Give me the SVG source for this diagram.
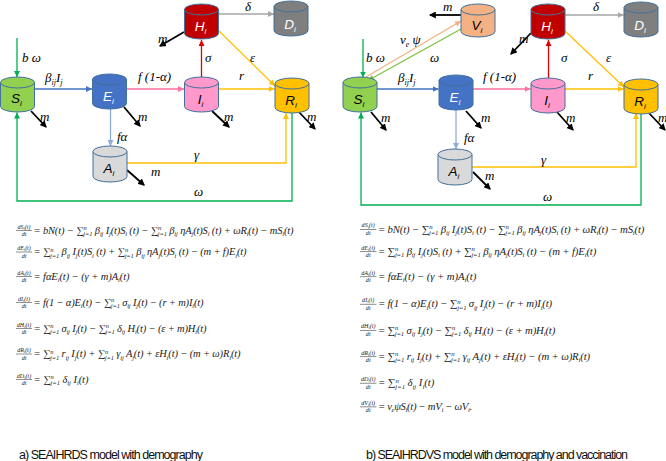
<svg xmlns="http://www.w3.org/2000/svg" width="666" height="461" viewBox="0 0 666 461">
<defs>
<style>
.cyl{stroke:#41719C;stroke-width:1}
.nl{font-family:"Liberation Sans",Arial,sans-serif;font-style:italic;font-size:13.5px;text-anchor:middle}
.ns{font-size:8px}
.wt{fill:#fff}
.bk{fill:#000}
.c{fill:none;stroke-width:1.3}
.mk{fill:none;stroke:#000;stroke-width:1.8}
.cl{font-family:"Liberation Serif","DejaVu Serif",serif;font-style:italic;font-size:13px;fill:#000}
.cs{font-size:8px}
.eq{font-family:"Liberation Serif","DejaVu Serif",serif;font-style:italic;font-size:10.5px;fill:#222}
.s{font-size:6.5px}
.fr{font-family:"Liberation Serif","DejaVu Serif",serif;font-style:italic;font-size:6px;text-anchor:middle;fill:#222}
.fs{font-size:4.5px}
.bar{stroke:#222;stroke-width:0.5}
.cap{font-family:"Liberation Sans",Arial,sans-serif;font-size:12.5px;fill:#111}
</style>
<marker id="aG" viewBox="0 0 6 6" refX="6" refY="3" markerWidth="6" markerHeight="6" markerUnits="userSpaceOnUse" orient="auto"><path d="M0,0L6,3L0,6z" fill="#00B050"/></marker>
<marker id="aLG" viewBox="0 0 6 6" refX="6" refY="3" markerWidth="6" markerHeight="6" markerUnits="userSpaceOnUse" orient="auto"><path d="M0,0L6,3L0,6z" fill="#7DC242"/></marker>
<marker id="aB" viewBox="0 0 6 6" refX="6" refY="3" markerWidth="6" markerHeight="6" markerUnits="userSpaceOnUse" orient="auto"><path d="M0,0L6,3L0,6z" fill="#4472C4"/></marker>
<marker id="aP" viewBox="0 0 6 6" refX="6" refY="3" markerWidth="6" markerHeight="6" markerUnits="userSpaceOnUse" orient="auto"><path d="M0,0L6,3L0,6z" fill="#FF6F9F"/></marker>
<marker id="aY" viewBox="0 0 6 6" refX="6" refY="3" markerWidth="6" markerHeight="6" markerUnits="userSpaceOnUse" orient="auto"><path d="M0,0L6,3L0,6z" fill="#FFC000"/></marker>
<marker id="aR" viewBox="0 0 6 6" refX="6" refY="3" markerWidth="6" markerHeight="6" markerUnits="userSpaceOnUse" orient="auto"><path d="M0,0L6,3L0,6z" fill="#E00000"/></marker>
<marker id="aGr" viewBox="0 0 6 6" refX="6" refY="3" markerWidth="6" markerHeight="6" markerUnits="userSpaceOnUse" orient="auto"><path d="M0,0L6,3L0,6z" fill="#A6A6A6"/></marker>
<marker id="aLB" viewBox="0 0 6 6" refX="6" refY="3" markerWidth="6" markerHeight="6" markerUnits="userSpaceOnUse" orient="auto"><path d="M0,0L6,3L0,6z" fill="#8FAADC"/></marker>
<marker id="aO" viewBox="0 0 6 6" refX="6" refY="3" markerWidth="6" markerHeight="6" markerUnits="userSpaceOnUse" orient="auto"><path d="M0,0L6,3L0,6z" fill="#F4B183"/></marker>
<marker id="aK" viewBox="0 0 6 6" refX="5" refY="3" markerWidth="7" markerHeight="7" markerUnits="userSpaceOnUse" orient="auto"><path d="M0,0L6,3L0,6z" fill="#000"/></marker>
</defs>
<rect width="666" height="461" fill="#fff"/>

<!-- connectors -->
<g id="connectors">
<!-- left panel -->
<line class="c" stroke="#00B050" x1="17" y1="38" x2="17" y2="77" marker-end="url(#aG)"/>
<line class="c" stroke="#4472C4" x1="34.5" y1="89" x2="92" y2="89" marker-end="url(#aB)"/>
<line class="c" stroke="#FF6F9F" x1="126.5" y1="89" x2="184" y2="89" marker-end="url(#aP)"/>
<line class="c" stroke="#FFC000" x1="218.5" y1="89" x2="274.5" y2="89" marker-end="url(#aY)"/>
<line class="c" stroke="#E00000" x1="201.5" y1="77" x2="201.5" y2="40" marker-end="url(#aR)"/>
<line class="c" stroke="#FFC000" x1="218" y1="30" x2="275" y2="86" marker-end="url(#aY)"/>
<line class="c" stroke="#A6A6A6" x1="218.5" y1="14" x2="274" y2="14" marker-end="url(#aGr)"/>
<line class="c" stroke="#8FAADC" x1="110.5" y1="109" x2="110.5" y2="146" marker-end="url(#aLB)"/>
<polyline class="c" stroke="#FFC000" points="127,163 286,163 286,113" marker-end="url(#aY)"/>
<polyline class="c" stroke="#00B050" stroke-width="1.6" points="292,113 292,201 17,201 17,112.5" marker-end="url(#aG)"/>
<line class="mk" x1="184" y1="32" x2="160" y2="46" marker-end="url(#aK)"/>
<line class="mk" x1="31" y1="111" x2="46" y2="127" marker-end="url(#aK)"/>
<line class="mk" x1="124" y1="107" x2="140" y2="126" marker-end="url(#aK)"/>
<line class="mk" x1="212" y1="111" x2="229" y2="127" marker-end="url(#aK)"/>
<line class="mk" x1="298" y1="111" x2="315" y2="129" marker-end="url(#aK)"/>
<line class="mk" x1="127" y1="170" x2="144" y2="185" marker-end="url(#aK)"/>
<!-- right panel -->
<line class="c" stroke="#00B050" x1="363" y1="39" x2="363" y2="77.5" marker-end="url(#aG)"/>
<line class="c" stroke="#F4B183" stroke-width="1.6" x1="366" y1="77" x2="461" y2="21" marker-end="url(#aO)"/>
<line class="c" stroke="#7DC242" stroke-width="1.6" x1="461" y1="29" x2="368" y2="80.5" marker-end="url(#aLG)"/>
<line class="c" stroke="#4472C4" x1="377" y1="89" x2="438.5" y2="89" marker-end="url(#aB)"/>
<line class="c" stroke="#FF6F9F" x1="473" y1="89" x2="530.5" y2="89" marker-end="url(#aP)"/>
<line class="c" stroke="#FFC000" x1="565" y1="89" x2="623.5" y2="89" marker-end="url(#aY)"/>
<line class="c" stroke="#E00000" x1="548.5" y1="78" x2="548.5" y2="40" marker-end="url(#aR)"/>
<line class="c" stroke="#FFC000" x1="565" y1="31" x2="624" y2="87" marker-end="url(#aY)"/>
<line class="c" stroke="#A6A6A6" x1="565" y1="15" x2="623.5" y2="15" marker-end="url(#aGr)"/>
<line class="c" stroke="#8FAADC" x1="456" y1="110" x2="456" y2="149" marker-end="url(#aLB)"/>
<polyline class="c" stroke="#FFC000" points="472,167 636,167 636,113" marker-end="url(#aY)"/>
<polyline class="c" stroke="#00B050" stroke-width="1.6" points="641,113 641,205 361,205 361,112.5" marker-end="url(#aG)"/>
<line class="mk" x1="461" y1="15" x2="430" y2="15" marker-end="url(#aK)"/>
<line class="mk" x1="531" y1="33" x2="511" y2="54" marker-end="url(#aK)"/>
<line class="mk" x1="371" y1="112" x2="386" y2="130" marker-end="url(#aK)"/>
<line class="mk" x1="466" y1="111" x2="481" y2="128" marker-end="url(#aK)"/>
<line class="mk" x1="557" y1="112" x2="573" y2="130" marker-end="url(#aK)"/>
<line class="mk" x1="648" y1="112" x2="665" y2="130" marker-end="url(#aK)"/>
<line class="mk" x1="473" y1="172" x2="490" y2="189" marker-end="url(#aK)"/>
</g>

<g id="connector-labels">
<text class="cl" x="22" y="62">b ω</text>
<text class="cl" x="45" y="82">β<tspan class="cs" dy="3">ij</tspan><tspan dy="-3">I</tspan><tspan class="cs" dy="3">j</tspan></text>
<text class="cl" x="138" y="81">f (1-α)</text>
<text class="cl" x="239" y="80">r</text>
<text class="cl" x="205" y="62">σ</text>
<text class="cl" x="250" y="62">ε</text>
<text class="cl" x="245" y="11">δ</text>
<text class="cl" x="117" y="141">fα</text>
<text class="cl" x="194" y="159">γ</text>
<text class="cl" x="194" y="196">ω</text>
<text class="cl" x="158" y="43">m</text>
<text class="cl" x="40" y="121">m</text>
<text class="cl" x="138" y="121">m</text>
<text class="cl" x="224" y="121">m</text>
<text class="cl" x="307" y="121">m</text>
<text class="cl" x="151" y="176">m</text>

<text class="cl" x="366" y="62">b ω</text>
<text class="cl" x="400" y="44">v<tspan class="cs" dy="3">e</tspan><tspan dy="-3"> ψ</tspan></text>
<text class="cl" x="430" y="62">ω</text>
<text class="cl" x="398" y="82">β<tspan class="cs" dy="3">ij</tspan><tspan dy="-3">I</tspan><tspan class="cs" dy="3">j</tspan></text>
<text class="cl" x="483" y="81">f (1-α)</text>
<text class="cl" x="588" y="80">r</text>
<text class="cl" x="561" y="62">σ</text>
<text class="cl" x="606" y="62">ε</text>
<text class="cl" x="593" y="11">δ</text>
<text class="cl" x="443" y="11">m</text>
<text class="cl" x="464" y="142">fα</text>
<text class="cl" x="541" y="164">γ</text>
<text class="cl" x="543" y="201">ω</text>
<text class="cl" x="519" y="43">m</text>
<text class="cl" x="381" y="122">m</text>
<text class="cl" x="481" y="122">m</text>
<text class="cl" x="566" y="122">m</text>
<text class="cl" x="658" y="122">m</text>
<text class="cl" x="485" y="180">m</text>
</g>

<!-- left nodes -->
<g id="S-left"><path class="cyl" fill="#92D050" d="M0.5,82.5V106.5A17,5.5 0 0 0 34.5,106.5V82.5Z"/><ellipse class="cyl" fill="#92D050" cx="17.5" cy="82.5" rx="17" ry="5.5"/><text class="nl bk" x="16.5" y="103">S<tspan class="ns" dy="3">i</tspan></text></g>
<g id="E-left"><path class="cyl" fill="#4472C4" d="M92.5,79.5V103.5A17,5.5 0 0 0 126.5,103.5V79.5Z"/><ellipse class="cyl" fill="#4472C4" cx="109.5" cy="79.5" rx="17" ry="5.5"/><text class="nl wt" x="108.5" y="101">E<tspan class="ns" dy="3">i</tspan></text></g>
<g id="I-left"><path class="cyl" fill="#FF99CC" d="M184.5,82.5V106.5A17,5.5 0 0 0 218.5,106.5V82.5Z"/><ellipse class="cyl" fill="#FF99CC" cx="201.5" cy="82.5" rx="17" ry="5.5"/><text class="nl bk" x="200.5" y="104">I<tspan class="ns" dy="3">i</tspan></text></g>
<g id="R-left"><path class="cyl" fill="#FFC000" d="M275,83.5V107.5A17,5.5 0 0 0 309,107.5V83.5Z"/><ellipse class="cyl" fill="#FFC000" cx="292" cy="83.5" rx="17" ry="5.5"/><text class="nl bk" x="291" y="105">R<tspan class="ns" dy="3">i</tspan></text></g>
<g id="H-left"><path class="cyl" fill="#C00000" d="M184.5,9.5V33.5A17,5.5 0 0 0 218.5,33.5V9.5Z"/><ellipse class="cyl" fill="#C00000" cx="201.5" cy="9.5" rx="17" ry="5.5"/><text class="nl wt" x="200.5" y="31">H<tspan class="ns" dy="3">i</tspan></text></g>
<g id="D-left"><path class="cyl" fill="#7F7F7F" d="M274,6.5V30.5A17,5.5 0 0 0 308,30.5V6.5Z"/><ellipse class="cyl" fill="#7F7F7F" cx="291" cy="6.5" rx="17" ry="5.5"/><text class="nl wt" x="290" y="29">D<tspan class="ns" dy="3">i</tspan></text></g>
<g id="A-left"><path class="cyl" fill="#D9D9D9" d="M93,151.5V176.5A17,5.5 0 0 0 127,176.5V151.5Z"/><ellipse class="cyl" fill="#D9D9D9" cx="110" cy="151.5" rx="17" ry="5.5"/><text class="nl bk" x="109" y="173">A<tspan class="ns" dy="3">i</tspan></text></g>

<!-- right nodes -->
<g id="S-right"><path class="cyl" fill="#92D050" d="M343,82.5V106.5A17,5.5 0 0 0 377,106.5V82.5Z"/><ellipse class="cyl" fill="#92D050" cx="360" cy="82.5" rx="17" ry="5.5"/><text class="nl bk" x="359" y="104">S<tspan class="ns" dy="3">i</tspan></text></g>
<g id="E-right"><path class="cyl" fill="#4472C4" d="M439,80.5V104.5A17,5.5 0 0 0 473,104.5V80.5Z"/><ellipse class="cyl" fill="#4472C4" cx="456" cy="80.5" rx="17" ry="5.5"/><text class="nl wt" x="455" y="102">E<tspan class="ns" dy="3">i</tspan></text></g>
<g id="I-right"><path class="cyl" fill="#FF99CC" d="M531,83.5V107.5A17,5.5 0 0 0 565,107.5V83.5Z"/><ellipse class="cyl" fill="#FF99CC" cx="548" cy="83.5" rx="17" ry="5.5"/><text class="nl bk" x="547" y="105">I<tspan class="ns" dy="3">i</tspan></text></g>
<g id="R-right"><path class="cyl" fill="#FFC000" d="M624,84.5V108.5A17,5.5 0 0 0 658,108.5V84.5Z"/><ellipse class="cyl" fill="#FFC000" cx="641" cy="84.5" rx="17" ry="5.5"/><text class="nl bk" x="640" y="106">R<tspan class="ns" dy="3">i</tspan></text></g>
<g id="H-right"><path class="cyl" fill="#C00000" d="M531,9.5V33.5A17,5.5 0 0 0 565,33.5V9.5Z"/><ellipse class="cyl" fill="#C00000" cx="548" cy="9.5" rx="17" ry="5.5"/><text class="nl wt" x="547" y="31">H<tspan class="ns" dy="3">i</tspan></text></g>
<g id="D-right"><path class="cyl" fill="#7F7F7F" d="M624,7.5V31.5A17,5.5 0 0 0 658,31.5V7.5Z"/><ellipse class="cyl" fill="#7F7F7F" cx="641" cy="7.5" rx="17" ry="5.5"/><text class="nl wt" x="640" y="30">D<tspan class="ns" dy="3">i</tspan></text></g>
<g id="V-right"><path class="cyl" fill="#F4B183" d="M461,9.5V31.5A17,5.5 0 0 0 495,31.5V9.5Z"/><ellipse class="cyl" fill="#F4B183" cx="478" cy="9.5" rx="17" ry="5.5"/><text class="nl bk" x="477" y="30">V<tspan class="ns" dy="3">i</tspan></text></g>
<g id="A-right"><path class="cyl" fill="#D9D9D9" d="M438,154.5V179.5A17,5.5 0 0 0 472,179.5V154.5Z"/><ellipse class="cyl" fill="#D9D9D9" cx="455" cy="154.5" rx="17" ry="5.5"/><text class="nl bk" x="454" y="176">A<tspan class="ns" dy="3">i</tspan></text></g>

<!-- equations left -->
<g id="equations-left" transform="translate(16,230)">
<g><text class="fr" x="8" y="-1.5">dS<tspan class="fs" dy="1">i</tspan><tspan dy="-1">(t)</tspan></text><line class="bar" x1="0" y1="0.5" x2="16" y2="0.5"/><text class="fr" x="8" y="6">dt</text>
<text class="eq" x="17.5" y="3.5" textLength="260" lengthAdjust="spacing">= bN(t) − ∑<tspan class="s" dy="-3.5">n</tspan><tspan class="s" dx="-3.3" dy="6">j=1</tspan><tspan dy="-2.5"> β</tspan><tspan class="s" dy="2.5">ij</tspan><tspan dy="-2.5"> I</tspan><tspan class="s" dy="2.5">j</tspan><tspan dy="-2.5">(t)S</tspan><tspan class="s" dy="2.5">i</tspan><tspan dy="-2.5"> (t) − ∑</tspan><tspan class="s" dy="-3.5">n</tspan><tspan class="s" dx="-3.3" dy="6">j=1</tspan><tspan dy="-2.5"> β</tspan><tspan class="s" dy="2.5">ij</tspan><tspan dy="-2.5"> ηA</tspan><tspan class="s" dy="2.5">j</tspan><tspan dy="-2.5">(t)S</tspan><tspan class="s" dy="2.5">i</tspan><tspan dy="-2.5"> (t) + ωR</tspan><tspan class="s" dy="2.5">i</tspan><tspan dy="-2.5">(t) − mS</tspan><tspan class="s" dy="2.5">i</tspan><tspan dy="-2.5">(t)</tspan></text></g>
<g transform="translate(0,21.5)"><text class="fr" x="8" y="-1.5">dE<tspan class="fs" dy="1">i</tspan><tspan dy="-1">(t)</tspan></text><line class="bar" x1="0" y1="0.5" x2="16" y2="0.5"/><text class="fr" x="8" y="6">dt</text>
<text class="eq" x="17.5" y="3.5" textLength="213" lengthAdjust="spacing">= ∑<tspan class="s" dy="-3.5">n</tspan><tspan class="s" dx="-3.3" dy="6">j=1</tspan><tspan dy="-2.5"> β</tspan><tspan class="s" dy="2.5">ij</tspan><tspan dy="-2.5"> I</tspan><tspan class="s" dy="2.5">j</tspan><tspan dy="-2.5">(t)S</tspan><tspan class="s" dy="2.5">i</tspan><tspan dy="-2.5"> (t) + ∑</tspan><tspan class="s" dy="-3.5">n</tspan><tspan class="s" dx="-3.3" dy="6">j=1</tspan><tspan dy="-2.5"> β</tspan><tspan class="s" dy="2.5">ij</tspan><tspan dy="-2.5"> ηA</tspan><tspan class="s" dy="2.5">j</tspan><tspan dy="-2.5">(t)S</tspan><tspan class="s" dy="2.5">i</tspan><tspan dy="-2.5"> (t) − (m + f)E</tspan><tspan class="s" dy="2.5">i</tspan><tspan dy="-2.5">(t)</tspan></text></g>
<g transform="translate(0,46)"><text class="fr" x="8" y="-1.5">dA<tspan class="fs" dy="1">i</tspan><tspan dy="-1">(t)</tspan></text><line class="bar" x1="0" y1="0.5" x2="16" y2="0.5"/><text class="fr" x="8" y="6">dt</text>
<text class="eq" x="17.5" y="3.5" textLength="96" lengthAdjust="spacing">= fαE<tspan class="s" dy="2.5">i</tspan><tspan dy="-2.5">(t) − (γ + m)A</tspan><tspan class="s" dy="2.5">i</tspan><tspan dy="-2.5">(t)</tspan></text></g>
<g transform="translate(0,72)"><text class="fr" x="8" y="-1.5">dI<tspan class="fs" dy="1">i</tspan><tspan dy="-1">(t)</tspan></text><line class="bar" x1="0" y1="0.5" x2="16" y2="0.5"/><text class="fr" x="8" y="6">dt</text>
<text class="eq" x="17.5" y="3.5" textLength="170" lengthAdjust="spacing">= f(1 − α)E<tspan class="s" dy="2.5">i</tspan><tspan dy="-2.5">(t) − ∑</tspan><tspan class="s" dy="-3.5">n</tspan><tspan class="s" dx="-3.3" dy="6">j=1</tspan><tspan dy="-2.5"> σ</tspan><tspan class="s" dy="2.5">ij</tspan><tspan dy="-2.5"> I</tspan><tspan class="s" dy="2.5">j</tspan><tspan dy="-2.5">(t)  − (r + m)I</tspan><tspan class="s" dy="2.5">i</tspan><tspan dy="-2.5">(t)</tspan></text></g>
<g transform="translate(0,98)"><text class="fr" x="8" y="-1.5">dH<tspan class="fs" dy="1">i</tspan><tspan dy="-1">(t)</tspan></text><line class="bar" x1="0" y1="0.5" x2="16" y2="0.5"/><text class="fr" x="8" y="6">dt</text>
<text class="eq" x="17.5" y="3.5" textLength="173" lengthAdjust="spacing">= ∑<tspan class="s" dy="-3.5">n</tspan><tspan class="s" dx="-3.3" dy="6">j=1</tspan><tspan dy="-2.5"> σ</tspan><tspan class="s" dy="2.5">ij</tspan><tspan dy="-2.5"> I</tspan><tspan class="s" dy="2.5">j</tspan><tspan dy="-2.5">(t) − ∑</tspan><tspan class="s" dy="-3.5">n</tspan><tspan class="s" dx="-3.3" dy="6">j=1</tspan><tspan dy="-2.5"> δ</tspan><tspan class="s" dy="2.5">ij</tspan><tspan dy="-2.5"> H</tspan><tspan class="s" dy="2.5">i</tspan><tspan dy="-2.5">(t) − (ε + m)H</tspan><tspan class="s" dy="2.5">i</tspan><tspan dy="-2.5">(t)</tspan></text></g>
<g transform="translate(0,123.5)"><text class="fr" x="8" y="-1.5">dR<tspan class="fs" dy="1">i</tspan><tspan dy="-1">(t)</tspan></text><line class="bar" x1="0" y1="0.5" x2="16" y2="0.5"/><text class="fr" x="8" y="6">dt</text>
<text class="eq" x="17.5" y="3.5" textLength="207" lengthAdjust="spacing">= ∑<tspan class="s" dy="-3.5">n</tspan><tspan class="s" dx="-3.3" dy="6">j=1</tspan><tspan dy="-2.5"> r</tspan><tspan class="s" dy="2.5">ij</tspan><tspan dy="-2.5"> I</tspan><tspan class="s" dy="2.5">j</tspan><tspan dy="-2.5">(t) + ∑</tspan><tspan class="s" dy="-3.5">n</tspan><tspan class="s" dx="-3.3" dy="6">j=1</tspan><tspan dy="-2.5"> γ</tspan><tspan class="s" dy="2.5">ij</tspan><tspan dy="-2.5"> A</tspan><tspan class="s" dy="2.5">j</tspan><tspan dy="-2.5">(t) + εH</tspan><tspan class="s" dy="2.5">i</tspan><tspan dy="-2.5">(t) − (m + ω)R</tspan><tspan class="s" dy="2.5">i</tspan><tspan dy="-2.5">(t)</tspan></text></g>
<g transform="translate(0,149)"><text class="fr" x="8" y="-1.5">dD<tspan class="fs" dy="1">i</tspan><tspan dy="-1">(t)</tspan></text><line class="bar" x1="0" y1="0.5" x2="16" y2="0.5"/><text class="fr" x="8" y="6">dt</text>
<text class="eq" x="17.5" y="3.5" textLength="55" lengthAdjust="spacing">= ∑<tspan class="s" dy="-3.5">n</tspan><tspan class="s" dx="-3.3" dy="6">j=1</tspan><tspan dy="-2.5"> δ</tspan><tspan class="s" dy="2.5">ij</tspan><tspan dy="-2.5"> I</tspan><tspan class="s" dy="2.5">i</tspan><tspan dy="-2.5">(t)</tspan></text></g>
</g>

<!-- equations right -->
<g id="equations-right" transform="translate(360,229) scale(1.025)">
<g><text class="fr" x="8" y="-1.5">dS<tspan class="fs" dy="1">i</tspan><tspan dy="-1">(t)</tspan></text><line class="bar" x1="0" y1="0.5" x2="16" y2="0.5"/><text class="fr" x="8" y="6">dt</text>
<text class="eq" x="17.5" y="3.5" textLength="260" lengthAdjust="spacing">= bN(t) − ∑<tspan class="s" dy="-3.5">n</tspan><tspan class="s" dx="-3.3" dy="6">j=1</tspan><tspan dy="-2.5"> β</tspan><tspan class="s" dy="2.5">ij</tspan><tspan dy="-2.5"> I</tspan><tspan class="s" dy="2.5">j</tspan><tspan dy="-2.5">(t)S</tspan><tspan class="s" dy="2.5">i</tspan><tspan dy="-2.5"> (t) − ∑</tspan><tspan class="s" dy="-3.5">n</tspan><tspan class="s" dx="-3.3" dy="6">j=1</tspan><tspan dy="-2.5"> β</tspan><tspan class="s" dy="2.5">ij</tspan><tspan dy="-2.5"> ηA</tspan><tspan class="s" dy="2.5">j</tspan><tspan dy="-2.5">(t)S</tspan><tspan class="s" dy="2.5">i</tspan><tspan dy="-2.5"> (t) + ωR</tspan><tspan class="s" dy="2.5">i</tspan><tspan dy="-2.5">(t) − mS</tspan><tspan class="s" dy="2.5">i</tspan><tspan dy="-2.5">(t)</tspan></text></g>
<g transform="translate(0,21.5)"><text class="fr" x="8" y="-1.5">dE<tspan class="fs" dy="1">i</tspan><tspan dy="-1">(t)</tspan></text><line class="bar" x1="0" y1="0.5" x2="16" y2="0.5"/><text class="fr" x="8" y="6">dt</text>
<text class="eq" x="17.5" y="3.5" textLength="213" lengthAdjust="spacing">= ∑<tspan class="s" dy="-3.5">n</tspan><tspan class="s" dx="-3.3" dy="6">j=1</tspan><tspan dy="-2.5"> β</tspan><tspan class="s" dy="2.5">ij</tspan><tspan dy="-2.5"> I</tspan><tspan class="s" dy="2.5">j</tspan><tspan dy="-2.5">(t)S</tspan><tspan class="s" dy="2.5">i</tspan><tspan dy="-2.5"> (t) + ∑</tspan><tspan class="s" dy="-3.5">n</tspan><tspan class="s" dx="-3.3" dy="6">j=1</tspan><tspan dy="-2.5"> β</tspan><tspan class="s" dy="2.5">ij</tspan><tspan dy="-2.5"> ηA</tspan><tspan class="s" dy="2.5">j</tspan><tspan dy="-2.5">(t)S</tspan><tspan class="s" dy="2.5">i</tspan><tspan dy="-2.5"> (t) − (m + f)E</tspan><tspan class="s" dy="2.5">i</tspan><tspan dy="-2.5">(t)</tspan></text></g>
<g transform="translate(0,46)"><text class="fr" x="8" y="-1.5">dA<tspan class="fs" dy="1">i</tspan><tspan dy="-1">(t)</tspan></text><line class="bar" x1="0" y1="0.5" x2="16" y2="0.5"/><text class="fr" x="8" y="6">dt</text>
<text class="eq" x="17.5" y="3.5" textLength="96" lengthAdjust="spacing">= fαE<tspan class="s" dy="2.5">i</tspan><tspan dy="-2.5">(t) − (γ + m)A</tspan><tspan class="s" dy="2.5">i</tspan><tspan dy="-2.5">(t)</tspan></text></g>
<g transform="translate(0,73)"><text class="fr" x="8" y="-1.5">dI<tspan class="fs" dy="1">i</tspan><tspan dy="-1">(t)</tspan></text><line class="bar" x1="0" y1="0.5" x2="16" y2="0.5"/><text class="fr" x="8" y="6">dt</text>
<text class="eq" x="17.5" y="3.5" textLength="170" lengthAdjust="spacing">= f(1 − α)E<tspan class="s" dy="2.5">i</tspan><tspan dy="-2.5">(t) − ∑</tspan><tspan class="s" dy="-3.5">n</tspan><tspan class="s" dx="-3.3" dy="6">j=1</tspan><tspan dy="-2.5"> σ</tspan><tspan class="s" dy="2.5">ij</tspan><tspan dy="-2.5"> I</tspan><tspan class="s" dy="2.5">j</tspan><tspan dy="-2.5">(t)  − (r + m)I</tspan><tspan class="s" dy="2.5">i</tspan><tspan dy="-2.5">(t)</tspan></text></g>
<g transform="translate(0,98.5)"><text class="fr" x="8" y="-1.5">dH<tspan class="fs" dy="1">i</tspan><tspan dy="-1">(t)</tspan></text><line class="bar" x1="0" y1="0.5" x2="16" y2="0.5"/><text class="fr" x="8" y="6">dt</text>
<text class="eq" x="17.5" y="3.5" textLength="173" lengthAdjust="spacing">= ∑<tspan class="s" dy="-3.5">n</tspan><tspan class="s" dx="-3.3" dy="6">j=1</tspan><tspan dy="-2.5"> σ</tspan><tspan class="s" dy="2.5">ij</tspan><tspan dy="-2.5"> I</tspan><tspan class="s" dy="2.5">j</tspan><tspan dy="-2.5">(t) − ∑</tspan><tspan class="s" dy="-3.5">n</tspan><tspan class="s" dx="-3.3" dy="6">j=1</tspan><tspan dy="-2.5"> δ</tspan><tspan class="s" dy="2.5">ij</tspan><tspan dy="-2.5"> H</tspan><tspan class="s" dy="2.5">i</tspan><tspan dy="-2.5">(t) − (ε + m)H</tspan><tspan class="s" dy="2.5">i</tspan><tspan dy="-2.5">(t)</tspan></text></g>
<g transform="translate(0,124)"><text class="fr" x="8" y="-1.5">dR<tspan class="fs" dy="1">i</tspan><tspan dy="-1">(t)</tspan></text><line class="bar" x1="0" y1="0.5" x2="16" y2="0.5"/><text class="fr" x="8" y="6">dt</text>
<text class="eq" x="17.5" y="3.5" textLength="207" lengthAdjust="spacing">= ∑<tspan class="s" dy="-3.5">n</tspan><tspan class="s" dx="-3.3" dy="6">j=1</tspan><tspan dy="-2.5"> r</tspan><tspan class="s" dy="2.5">ij</tspan><tspan dy="-2.5"> I</tspan><tspan class="s" dy="2.5">j</tspan><tspan dy="-2.5">(t) + ∑</tspan><tspan class="s" dy="-3.5">n</tspan><tspan class="s" dx="-3.3" dy="6">j=1</tspan><tspan dy="-2.5"> γ</tspan><tspan class="s" dy="2.5">ij</tspan><tspan dy="-2.5"> A</tspan><tspan class="s" dy="2.5">j</tspan><tspan dy="-2.5">(t) + εH</tspan><tspan class="s" dy="2.5">i</tspan><tspan dy="-2.5">(t) − (m + ω)R</tspan><tspan class="s" dy="2.5">i</tspan><tspan dy="-2.5">(t)</tspan></text></g>
<g transform="translate(0,150)"><text class="fr" x="8" y="-1.5">dD<tspan class="fs" dy="1">i</tspan><tspan dy="-1">(t)</tspan></text><line class="bar" x1="0" y1="0.5" x2="16" y2="0.5"/><text class="fr" x="8" y="6">dt</text>
<text class="eq" x="17.5" y="3.5" textLength="55" lengthAdjust="spacing">= ∑<tspan class="s" dy="-3.5">n</tspan><tspan class="s" dx="-3.3" dy="6">j=1</tspan><tspan dy="-2.5"> δ</tspan><tspan class="s" dy="2.5">ij</tspan><tspan dy="-2.5"> I</tspan><tspan class="s" dy="2.5">i</tspan><tspan dy="-2.5">(t)</tspan></text></g>
<g transform="translate(0,173)"><text class="fr" x="8" y="-1.5">dV<tspan class="fs" dy="1">i</tspan><tspan dy="-1">(t)</tspan></text><line class="bar" x1="0" y1="0.5" x2="16" y2="0.5"/><text class="fr" x="8" y="6">dt</text>
<text class="eq" x="17.5" y="3.5" textLength="92" lengthAdjust="spacing">= v<tspan class="s" dy="2.5">e</tspan><tspan dy="-2.5">ψS</tspan><tspan class="s" dy="2.5">i</tspan><tspan dy="-2.5">(t) − mV</tspan><tspan class="s" dy="2.5">i</tspan><tspan dy="-2.5"> − ωV</tspan><tspan class="s" dy="2.5">i</tspan><tspan dy="-2.5">.</tspan></text></g>
</g>

<g id="captions">
<text class="cap" x="19" y="459" textLength="184" lengthAdjust="spacing">a)  SEAIHRDS model with demography</text>
<text class="cap" x="366" y="459" textLength="262" lengthAdjust="spacing">b)  SEAIHRDVS model with demography and vaccination</text>
</g>
</svg>
